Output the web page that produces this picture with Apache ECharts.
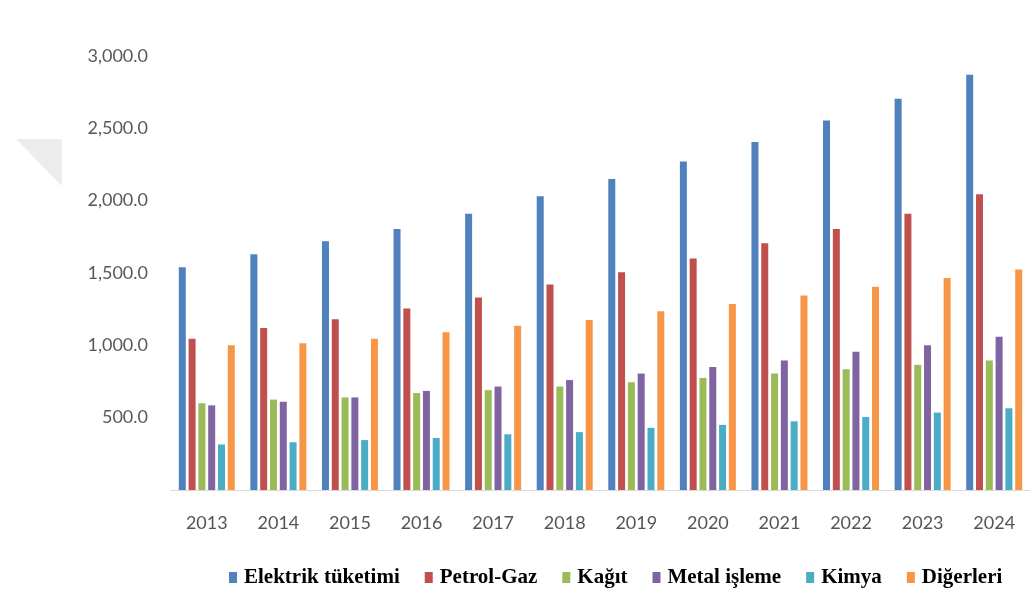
<!DOCTYPE html>
<html>
<head>
<meta charset="utf-8">
<script src="https://cdn.jsdelivr.net/npm/echarts@6/dist/echarts.min.js"></script>
<style>
  html, body { margin: 0; padding: 0; background: #ffffff; }
  #chart { width: 1030px; height: 599px; }
</style>
</head>
<body>
<div id="chart"></div>
<script>
// Yearly values per sector
const years = ['2013', '2014', '2015', '2016', '2017', '2018', '2019', '2020', '2021', '2022', '2023', '2024'];
const elektrik = [1540, 1630, 1720, 1805, 1910, 2030, 2150, 2270, 2405, 2555, 2705, 2870];
const petrolGaz = [1045, 1120, 1180, 1255, 1330, 1420, 1505, 1600, 1705, 1805, 1910, 2045];
const kagit = [600, 625, 640, 670, 690, 715, 745, 775, 805, 835, 865, 895];
const metal = [585, 610, 640, 685, 715, 760, 805, 850, 895, 955, 1000, 1060];
const kimya = [315, 330, 345, 360, 385, 400, 430, 450, 475, 505, 535, 565];
const digerleri = [1000, 1015, 1045, 1090, 1135, 1175, 1235, 1285, 1345, 1405, 1465, 1525];

const seriesDefs = [
  { name: 'Elektrik tüketimi', data: elektrik, color: '#4F81BD' },
  { name: 'Petrol-Gaz', data: petrolGaz, color: '#C0504D' },
  { name: 'Kağıt', data: kagit, color: '#9BBB59' },
  { name: 'Metal işleme', data: metal, color: '#8064A2' },
  { name: 'Kimya', data: kimya, color: '#4BACC6' },
  { name: 'Diğerleri', data: digerleri, color: '#F79646' }
];

const chart = echarts.init(document.getElementById('chart'), null, { renderer: 'canvas' });

chart.setOption({
  backgroundColor: '#ffffff',
  animation: false,
  grid: { left: 171, top: 56, width: 862, height: 434, containLabel: false },
  legend: {
    left: 229,
    top: 567,
    padding: 0,
    icon: 'rect',
    itemWidth: 8,
    itemHeight: 11,
    itemGap: 25,
    textStyle: {
      fontFamily: "'Liberation Serif', 'DejaVu Serif', serif",
      fontWeight: 'bold',
      fontSize: 21,
      color: '#000000',
      padding: [0, 0, 0, 2]
    },
    data: seriesDefs.map(s => s.name)
  },
  xAxis: {
    type: 'category',
    data: years,
    axisLine: { show: true, lineStyle: { color: '#d9d9d9', width: 1 } },
    axisTick: { show: false },
    axisLabel: {
      margin: 24,
      fontFamily: "Lato, 'Open Sans', sans-serif",
      fontSize: 18,
      color: '#555555'
    },
    splitLine: { show: false }
  },
  yAxis: {
    type: 'value',
    min: 0,
    max: 3000,
    interval: 500,
    axisLine: { show: false },
    axisTick: { show: false },
    splitLine: { show: false },
    axisLabel: {
      margin: 23,
      fontFamily: "Lato, 'Open Sans', sans-serif",
      fontSize: 18,
      color: '#595959',
      formatter: v => v === 0 ? '' : v.toLocaleString('en-US', { minimumFractionDigits: 1, maximumFractionDigits: 1 })
    }
  },
  graphic: [{
    type: 'polygon',
    shape: { points: [[16, 139], [62, 139], [62, 186]] },
    style: { fill: '#ececec' },
    silent: true
  }],
  series: seriesDefs.map(s => ({
    name: s.name,
    type: 'bar',
    data: s.data,
    barWidth: 7,
    barGap: '40%',
    itemStyle: { color: s.color }
  }))
});
</script>
</body>
</html>
